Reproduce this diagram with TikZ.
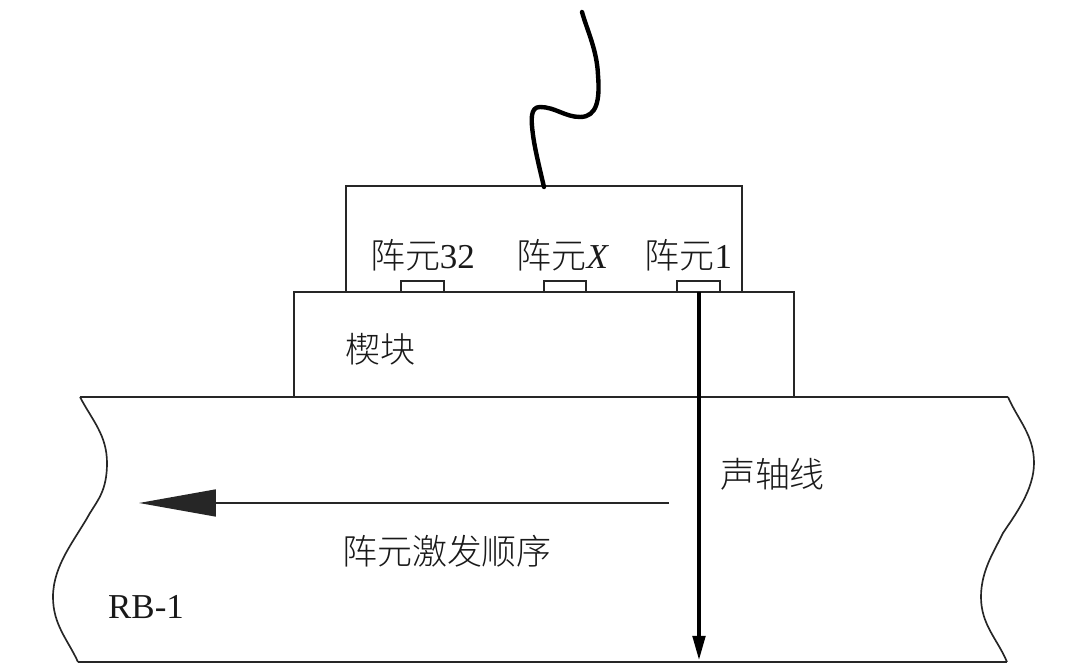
\documentclass[tikz,border=0pt]{standalone}
\usepackage{amsmath}
\usepackage{fontspec}
\setmainfont{Liberation Serif}
\newfontfamily\cjk[UprightFont=* Light]{Noto Sans CJK SC}
\usetikzlibrary{arrows.meta}
\tikzset{
  outline/.style={draw=black!85,line width=0.95pt},
  label/.style={inner sep=0pt,text=black!90,font=\fontsize{19.9pt}{21pt}\selectfont},
  cable/.style={draw=black,line width=2.5pt,line cap=round,line join=round}
}
\begin{document}
\begin{tikzpicture}[x=0.02cm,y=0.02cm]
\useasboundingbox (0,0) rectangle (1080,-671);
% probe, wedge and block
\draw [outline] (346,-292) -- (346,-186) -- (742,-186) -- (742,-292);
\draw [outline] (294,-397) -- (294,-292) -- (794,-292) -- (794,-397);
\draw [outline] (401,-292) -- (401,-281) -- (444,-281) -- (444,-292);
\draw [outline] (544,-292) -- (544,-281) -- (586,-281) -- (586,-292);
\draw [outline] (677,-292) -- (677,-281) -- (720,-281) -- (720,-292);
\draw [outline] (80,-397) -- (1008,-397);
\draw [outline] (78,-662) -- (1007,-662);
\draw [outline] (80,-397) .. controls (92,-420) and (107,-435) .. (107,-463)
  .. controls (107,-490) and (98,-500) .. (90,-513)
  .. controls (75,-540) and (53,-565) .. (53,-597)
  .. controls (53,-625) and (68,-640) .. (78,-662);
\draw [outline] (1008,-397) .. controls (1018,-420) and (1034,-435) .. (1034,-463)
  .. controls (1034,-490) and (1015,-515) .. (1003,-533)
  .. controls (995,-550) and (981,-570) .. (981,-597)
  .. controls (981,-625) and (998,-640) .. (1007,-662);
% cable
\coordinate (cabletop) at (582,-12);
\coordinate (cableend) at (544,-187);
\draw [cable] (cabletop) .. controls (587,-30) and (597,-50) .. (598,-75)
  .. controls (600,-100) and (597,-117) .. (580,-117)
  .. controls (565,-117) and (555,-107) .. (540,-107)
  .. controls (530,-107) and (531,-120) .. (533,-135)
  .. controls (535,-150) and (540,-170) .. (cableend);
% arrows
\coordinate (elemone) at (699,-292);
\coordinate (axisend) at (699,-661);
\draw [black,line width=2.6pt,-{Triangle[length=0.5cm,width=0.24cm]}] (elemone) -- (axisend);
\coordinate (orderstart) at (669,-503);
\coordinate (ordertip) at (139,-503);
\draw [black!85,line width=0.95pt,-{Triangle[length=1.54cm,width=0.54cm]}] (orderstart) -- (ordertip);
% labels
\node [label] (elemlast) at (422.5,-255) {{\cjk 阵元}32};
\node [label] (elemx) at (563,-255) {{\cjk 阵元}\textit{X}};
\node [label] (elemfirst) at (688.5,-255) {{\cjk 阵元}1};
\node [label] (wedge) at (380.5,-349) {\cjk 楔块};
\node [label] (axis) at (772.5,-474) {\cjk 声轴线};
\node [label] (order) at (447,-551) {\cjk 阵元激发顺序};
\node [label] (block) at (146,-607) {RB-1};
\end{tikzpicture}
\end{document}
